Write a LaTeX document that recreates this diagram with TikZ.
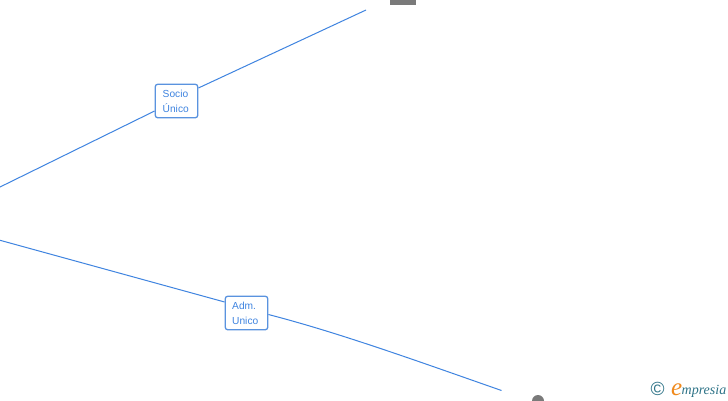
\documentclass[tikz,border=0pt]{standalone}
\usepackage{fontspec}
\setmainfont{Liberation Sans}
\newfontfamily\logofont{Liberation Serif}
\definecolor{linkblue}{HTML}{3F84E0}
\definecolor{boxblue}{HTML}{5A93DF}
\definecolor{shapegrey}{HTML}{7A7A7A}
\definecolor{logoteal}{HTML}{2F7488}
\definecolor{logoorange}{HTML}{F08A1D}
\tikzset{
  linkline/.style={draw=linkblue,line width=1pt},
  rolebox/.style={draw=boxblue,fill=white,line width=1.3pt,rounded corners=2.5pt,
    minimum width=42.5pt,minimum height=33.5pt,inner sep=0pt},
  roletext/.style={anchor=west,inner sep=0pt,align=left,text=linkblue,font=\fontsize{10.2}{15}\selectfont},
  greyshape/.style={fill=shapegrey,draw=none},
  logotxt/.style={inner sep=0pt,anchor=base west}
}
\begin{document}
\begin{tikzpicture}[x=1pt,y=-1pt]
\useasboundingbox (0,0) rectangle (728,400);
\clip (0,0) rectangle (728,400);
\fill[white] (0,0) rectangle (728,400);
\coordinate (a1) at (-1,187.5);
\coordinate (a2) at (366,10);
\coordinate (b1) at (-1,240);
\coordinate (b2) at (501.5,390.5);
\node[rolebox] (socio) at (176.5,101) {};
\node[rolebox] (adm) at (246.5,313) {};
\node[roletext] (sociot) at (162.5,101.3) {Socio\\Único};
\node[roletext] (admt) at (232,313.3) {Adm.\\Unico};
\draw[linkline] (a1) -- (socio.west |- 0,111);
\draw[linkline] (socio.east |- 0,88) -- (a2);
\draw[linkline] (b1) -- (adm.west |- 0,302);
\draw[linkline] (adm.east |- 0,314.5) .. controls (340,333) and (420,362) .. (b2);
\fill[greyshape] (390,-1) rectangle (416,5);
\fill[greyshape] (538,401) circle (6);
\node[inner sep=0pt,text=logoteal,font=\fontsize{19}{19}\selectfont] (copyr) at (657.5,389) {©};
\node[logotxt,text=logoorange,font=\logofont\itshape\fontsize{25}{25}\selectfont] (logoe) at (671,395) {e};
\node[logotxt,text=logoteal,font=\logofont\itshape\fontsize{14}{14}\selectfont] (logom) at (681.5,394) {mpresia};
\end{tikzpicture}
\end{document}
